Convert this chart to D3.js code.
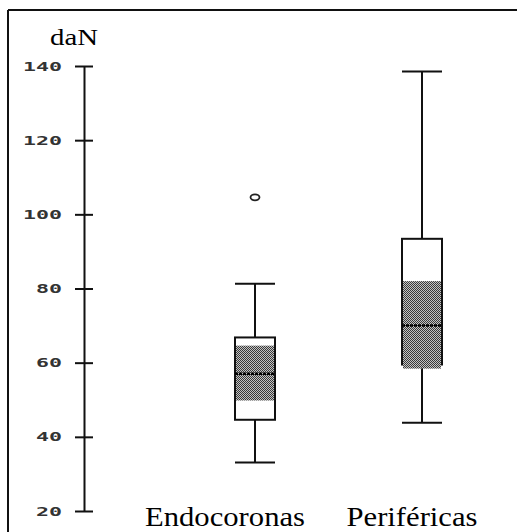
<!DOCTYPE html>
<html>
<head>
<meta charset="utf-8">
<script src="https://cdn.jsdelivr.net/npm/d3@7"></script>
<style>
  body { margin: 0; background: #fff; }
  svg { display: block; }
</style>
</head>
<body>
<svg id="chart"></svg>
<script>
// data (daN)
const categories = ["Endocoronas", "Periféricas"];
const whiskerLow = [33.1, 43.8];
const q1 = [44.6, 59.5];
const median = [57, 70];
const q3 = [66.8, 93.4];
const whiskerHigh = [81.3, 138.5];
const notchLow = [49.8, 58.4];
const notchHigh = [64.6, 82];
const outliers = [[104.6], []];
const yTicks = [20, 40, 60, 80, 100, 120, 140];

const width = 517, height = 532;
const boxW = 40;
const labelShift = [-30, -10]; // category labels are not centred under their boxes

const svg = d3.select("#chart").attr("width", width).attr("height", height);

// dotted grey fill used for the shaded part of the boxes
const defs = svg.append("defs");
const pat = defs.append("pattern")
    .attr("id", "dots")
    .attr("width", 2).attr("height", 2)
    .attr("patternUnits", "userSpaceOnUse");
pat.append("rect").attr("width", 2).attr("height", 2).attr("fill", "#c4c4c4");
pat.append("rect").attr("width", 1).attr("height", 1).attr("fill", "#3a3a3a");
pat.append("rect").attr("x", 1).attr("y", 1).attr("width", 1).attr("height", 1).attr("fill", "#3a3a3a");

// frame (top and left only)
svg.append("line").attr("x1", 8).attr("x2", width).attr("y1", 10).attr("y2", 10)
    .attr("stroke", "#111").attr("stroke-width", 2);
svg.append("line").attr("x1", 8).attr("x2", 8).attr("y1", 10).attr("y2", height)
    .attr("stroke", "#111").attr("stroke-width", 2);

const y = d3.scaleLinear().domain([20, 140]).range([511, 66]);
const x = d3.scalePoint().domain(categories).range([255, 422]);

// y axis
const axis = svg.append("g")
    .attr("transform", "translate(84,0)")
    .call(d3.axisLeft(y).tickValues(yTicks).tickSize(0).tickPadding(22));
axis.select(".domain").attr("stroke", "#111").attr("stroke-width", 2);
axis.selectAll(".tick line").attr("x1", -9).attr("x2", 9)
    .attr("stroke", "#111").attr("stroke-width", 2);
axis.selectAll(".tick text")
    .attr("font-family", "DejaVu Sans Mono")
    .attr("font-weight", "bold")
    .attr("font-size", 12.5)
    .attr("fill", "#333")
    .attr("textLength", d => String(d).length * 13)
    .attr("lengthAdjust", "spacingAndGlyphs");

svg.append("text")
    .attr("x", 50).attr("y", 45)
    .attr("font-family", "Liberation Serif")
    .attr("font-size", 24)
    .attr("textLength", 48)
    .attr("lengthAdjust", "spacingAndGlyphs")
    .text("daN");

// boxes
const boxes = svg.selectAll("g.box")
    .data(categories)
    .join("g")
    .attr("class", "box");

boxes.append("line") // whisker
    .attr("x1", d => x(d)).attr("x2", d => x(d))
    .attr("y1", (d, i) => y(whiskerLow[i]))
    .attr("y2", (d, i) => y(whiskerHigh[i]))
    .attr("stroke", "#111").attr("stroke-width", 2);

boxes.selectAll("line.cap")
    .data((d, i) => [whiskerLow[i], whiskerHigh[i]].map(v => ({ c: d, v })))
    .join("line")
    .attr("class", "cap")
    .attr("x1", d => x(d.c) - boxW / 2).attr("x2", d => x(d.c) + boxW / 2)
    .attr("y1", d => y(d.v)).attr("y2", d => y(d.v))
    .attr("stroke", "#111").attr("stroke-width", 2);

boxes.append("rect")
    .attr("x", d => x(d) - boxW / 2)
    .attr("y", (d, i) => y(q3[i]))
    .attr("width", boxW)
    .attr("height", (d, i) => y(q1[i]) - y(q3[i]))
    .attr("fill", "#fff")
    .attr("stroke", "#111").attr("stroke-width", 2);

boxes.append("rect")
    .attr("x", d => x(d) - boxW / 2 + 1)
    .attr("y", (d, i) => y(notchHigh[i]))
    .attr("width", boxW - 2)
    .attr("height", (d, i) => y(notchLow[i]) - y(notchHigh[i]))
    .attr("fill", "url(#dots)");

boxes.append("line")
    .attr("x1", d => x(d) - boxW / 2).attr("x2", d => x(d) + boxW / 2)
    .attr("y1", (d, i) => y(median[i])).attr("y2", (d, i) => y(median[i]))
    .attr("stroke", "#000").attr("stroke-width", 2.5)
    .attr("stroke-dasharray", "3,1");

boxes.selectAll("ellipse")
    .data((d, i) => outliers[i].map(v => ({ c: d, v })))
    .join("ellipse")
    .attr("cx", d => x(d.c))
    .attr("cy", d => y(d.v))
    .attr("rx", 4.5).attr("ry", 3)
    .attr("fill", "none")
    .attr("stroke", "#222").attr("stroke-width", 1.8);

// category labels
svg.selectAll("text.cat")
    .data(categories)
    .join("text")
    .attr("class", "cat")
    .attr("x", (d, i) => x(d) + labelShift[i])
    .attr("y", 526)
    .attr("text-anchor", "middle")
    .attr("font-family", "Liberation Serif")
    .attr("font-size", 27)
    .attr("textLength", (d, i) => i == 0 ? 160 : 131)
    .attr("lengthAdjust", "spacingAndGlyphs")
    .text(d => d);
</script>
</body>
</html>
